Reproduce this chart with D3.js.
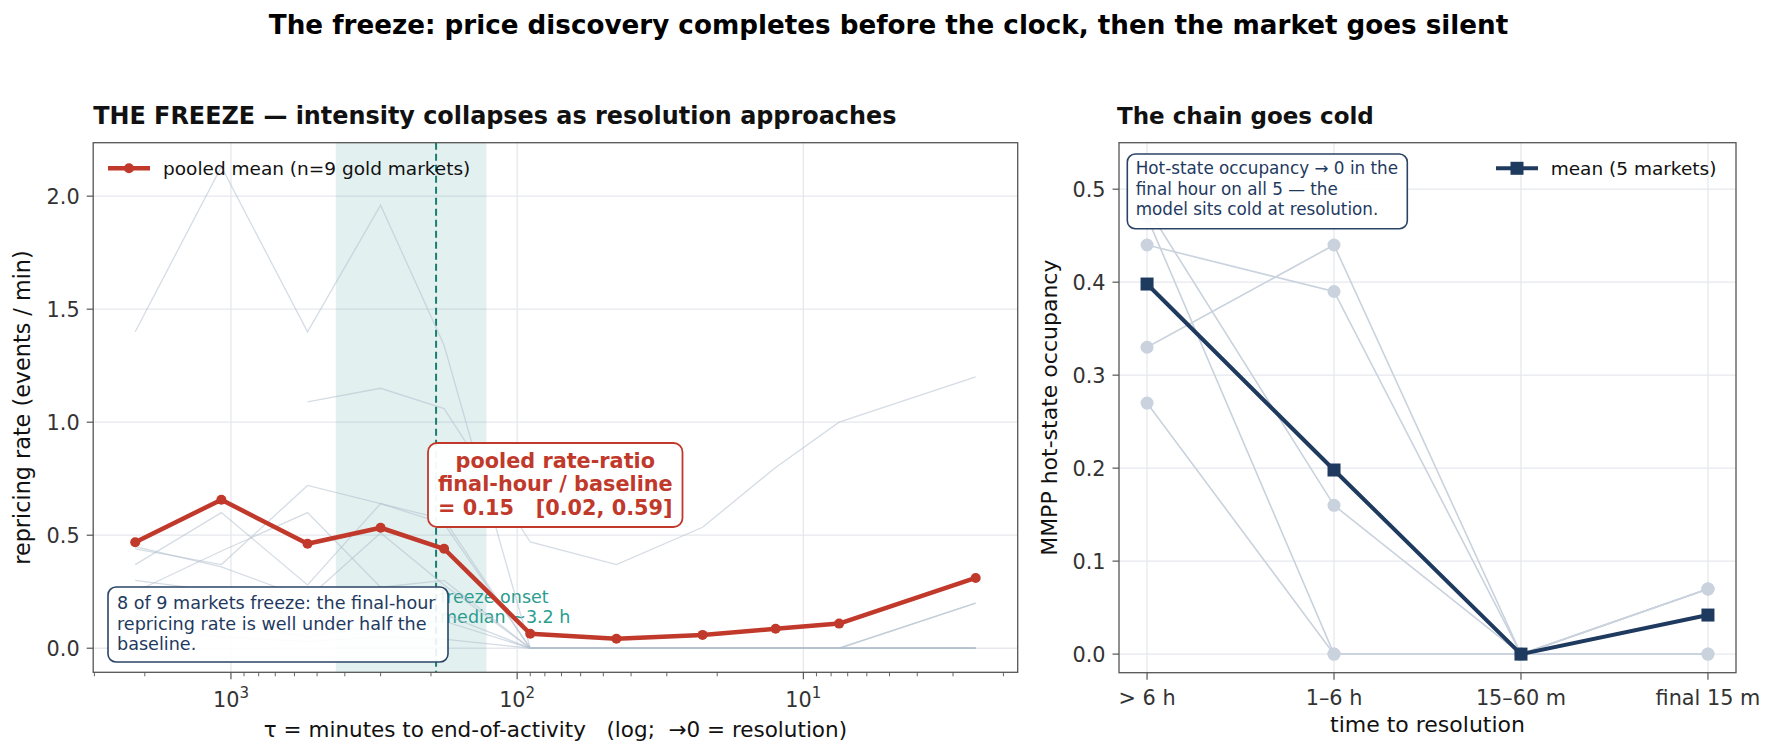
<!DOCTYPE html>
<html><head><meta charset="utf-8">
<script src="https://cdn.jsdelivr.net/npm/d3@7"></script>
<style>body{margin:0;background:#fff} text{font-family:"DejaVu Sans",sans-serif}</style>
</head><body><svg id="c" width="1777" height="756" xmlns="http://www.w3.org/2000/svg"></svg>
<script>
// ---------------- data ----------------
const tau = [2160, 1080, 540, 300, 180, 90, 45, 22.5, 12.5, 7.5, 2.5];
const pooledMean = [0.469, 0.657, 0.462, 0.533, 0.440, 0.064, 0.042, 0.059, 0.086, 0.109, 0.311];
const market1 = [1.40, 2.13, 1.40, 1.96, 1.34, 0, 0, 0, 0, 0, 0.20];
const market2 = [null, null, 1.09, 1.15, 1.06, 0.47, 0.37, 0.535, 0.80, 1.00, 1.20];
const market3 = [0.37, 0.60, 0.28, 0.64, 0.55, 0, 0, 0, 0, 0, 0];
const market4 = [0.44, 0.37, 0.72, 0.64, 0.57, 0, 0, 0, 0, 0, 0.20];
const market5 = [0.25, 0.43, 0.60, 0.27, 0.30, 0, 0, 0, 0, 0, 0];
const market6 = [0.45, 0.36, 0.22, 0.51, 0.28, 0, 0, 0, 0, 0, 0];
const market7 = [0.30, 0.25, 0.12, 0.20, 0.15, 0, 0, 0, 0, 0, 0];
const market8 = [0.20, 0.12, 0.05, 0.10, 0.12, 0, 0, 0, 0, 0, 0];
const market9 = [0.10, 0.05, 0.03, 0.05, 0.04, 0, 0, 0, 0, 0, 0];
const markets = [market1, market2, market3, market4, market5, market6, market7, market8, market9];
const freezeMedian = 192;          // minutes (~3.2 h)
const freezeBand = [430, 128];     // minutes
const yTicksL = [0, 0.5, 1.0, 1.5, 2.0];
const xMajorL = [1000, 100, 10];

const catLabels = ["> 6 h", "1–6 h", "15–60 m", "final 15 m"];
const hot1 = [0.44, 0.39, 0, 0.07];
const hot2 = [0.33, 0.44, 0, 0.07];
const hot3 = [0.27, 0, 0, 0];
const hot4 = [0.47, 0, 0, 0];
const hot5 = [0.48, 0.16, 0, 0.07];
const hotMarkets = [hot1, hot2, hot3, hot4, hot5];
const hotMean = [0.398, 0.198, 0, 0.042];
const yTicksR = [0, 0.1, 0.2, 0.3, 0.4, 0.5];
const yDomR = [-0.02, 0.55];

// ---------------- style ----------------
const cRed = "#c0392b", cNavy = "#1f3a5f", cGray = "#b3bfce", cGrayPt = "#c9d2dd";
const cGrid = "#e6e8ee", cSpine = "#555555", cTickTxt = "#333333", cTeal = "#1a7f72";
const TICK_FS = 20.8, LABEL_FS = 22, TITLE_FS = 23, SUP_FS = 26.2, LEG_FS = 18.5;

const svg = d3.select("#c");
svg.append("rect").attr("width", 1777).attr("height", 756).attr("fill", "#fff");

svg.append("text").attr("x", 888.5).attr("y", 34).attr("text-anchor", "middle")
  .attr("font-weight", "bold").attr("font-size", SUP_FS).attr("fill", "#000")
  .text("The freeze: price discovery completes before the clock, then the market goes silent");

// ================= LEFT PANEL =================
const L = {x0: 93.2, x1: 1017.7, y0: 142.7, y1: 672.3};
const lgMin = Math.log10(d3.min(tau)), lgMax = Math.log10(d3.max(tau));
const mx = 0.05 * (lgMax - lgMin);
const xL = d3.scaleLog().domain([10 ** (lgMax + mx), 10 ** (lgMin - mx)]).range([L.x0, L.x1]);
const allL = markets.flat().concat(pooledMean).filter(v => v != null);
const yMaxL = d3.max(allL), yMinL = Math.min(0, d3.min(allL));
const my = 0.05 * (yMaxL - yMinL);
const yL = d3.scaleLinear().domain([yMinL - my, yMaxL + my]).range([L.y1, L.y0]);

const gL = svg.append("g");
// grid
gL.selectAll(".gh").data(yTicksL).join("line")
  .attr("x1", L.x0).attr("x2", L.x1).attr("y1", d => yL(d)).attr("y2", d => yL(d))
  .attr("stroke", cGrid).attr("stroke-width", 1.3);
gL.selectAll(".gv").data(xMajorL).join("line")
  .attr("x1", d => xL(d)).attr("x2", d => xL(d)).attr("y1", L.y0).attr("y2", L.y1)
  .attr("stroke", cGrid).attr("stroke-width", 1.3);
// band
gL.append("rect").attr("x", xL(freezeBand[0])).attr("width", xL(freezeBand[1]) - xL(freezeBand[0]))
  .attr("y", L.y0).attr("height", L.y1 - L.y0).attr("fill", "#2a8c8c").attr("opacity", 0.13);
// dashed median
gL.append("line").attr("x1", xL(freezeMedian)).attr("x2", xL(freezeMedian))
  .attr("y1", L.y0).attr("y2", L.y1).attr("stroke", cTeal).attr("stroke-width", 2)
  .attr("stroke-dasharray", "7,4");
// teal annotation
const tt = gL.append("text").attr("font-size", 17.5).attr("fill", "#2a9d8f");
tt.append("tspan").attr("x", xL(freezeMedian) + 4).attr("y", 602.5).text("freeze onset");
tt.append("tspan").attr("x", xL(freezeMedian) + 4).attr("y", 623).text("median ~3.2 h");

// market lines
const lineL = d3.line().defined(d => d.v != null).x(d => xL(d.t)).y(d => yL(d.v));
markets.forEach(m => {
  gL.append("path").datum(m.map((v, i) => ({t: tau[i], v})))
    .attr("d", lineL).attr("fill", "none").attr("stroke", cGray)
    .attr("stroke-width", 1.3).attr("opacity", 0.55);
});
// pooled mean
const pm = tau.map((t, i) => ({t, v: pooledMean[i]}));
gL.append("path").datum(pm).attr("d", lineL).attr("fill", "none")
  .attr("stroke", cRed).attr("stroke-width", 4.5).attr("stroke-linejoin", "round");
gL.selectAll(".pm").data(pm).join("circle").attr("cx", d => xL(d.t)).attr("cy", d => yL(d.v))
  .attr("r", 5).attr("fill", cRed);

// left info box
gL.append("rect").attr("x", 108).attr("y", 587).attr("width", 340).attr("height", 75).attr("rx", 8)
  .attr("fill", "#fff").attr("fill-opacity", 0.9).attr("stroke", "#2b4466").attr("stroke-width", 1.6);
const lt = gL.append("text").attr("font-size", 17.6).attr("fill", cNavy);
["8 of 9 markets freeze: the final-hour", "repricing rate is well under half the", "baseline."]
  .forEach((s, i) => lt.append("tspan").attr("x", 117).attr("y", 609 + i * 20.6).text(s));

// red ratio box
gL.append("rect").attr("x", 428).attr("y", 443).attr("width", 254.5).attr("height", 84).attr("rx", 9)
  .attr("fill", "#fff").attr("fill-opacity", 0.95).attr("stroke", cRed).attr("stroke-width", 1.8);
const rt = gL.append("text").attr("font-size", 20.8).attr("font-weight", "bold").attr("fill", cRed)
  .attr("text-anchor", "middle").attr("xml:space", "preserve").style("white-space", "pre");
["pooled rate-ratio", "final-hour / baseline", "= 0.15   [0.02, 0.59]"]
  .forEach((s, i) => rt.append("tspan").attr("x", 555.3).attr("y", 467.5 + i * 23.6).text(s));

// legend
gL.append("line").attr("x1", 108).attr("x2", 150).attr("y1", 168.3).attr("y2", 168.3)
  .attr("stroke", cRed).attr("stroke-width", 4.5);
gL.append("circle").attr("cx", 129).attr("cy", 168.3).attr("r", 5).attr("fill", cRed);
gL.append("text").attr("x", 163).attr("y", 175).attr("font-size", LEG_FS).attr("fill", "#111")
  .text("pooled mean (n=9 gold markets)");

// spines
gL.append("rect").attr("x", L.x0).attr("y", L.y0).attr("width", L.x1 - L.x0).attr("height", L.y1 - L.y0)
  .attr("fill", "none").attr("stroke", cSpine).attr("stroke-width", 1.3);
// y ticks
yTicksL.forEach(v => {
  gL.append("line").attr("x1", L.x0 - 6.5).attr("x2", L.x0).attr("y1", yL(v)).attr("y2", yL(v))
    .attr("stroke", cSpine).attr("stroke-width", 1.2);
  gL.append("text").attr("x", L.x0 - 13.5).attr("y", yL(v) + 7.5).attr("text-anchor", "end")
    .attr("font-size", TICK_FS).attr("fill", cTickTxt).text(v.toFixed(1));
});
// x ticks (log)
const dom = xL.domain();
const lo = Math.min(dom[0], dom[1]), hi = Math.max(dom[0], dom[1]);
for (let k = -1; k <= 4; k++) {
  for (let j = 1; j <= 9; j++) {
    const v = j * 10 ** k;
    if (v < lo || v > hi) continue;
    const major = j === 1;
    gL.append("line").attr("x1", xL(v)).attr("x2", xL(v)).attr("y1", L.y1).attr("y2", L.y1 + (major ? 7 : 4))
      .attr("stroke", cSpine).attr("stroke-width", major ? 1.2 : 0.9);
  }
}
xMajorL.forEach(v => {
  const t = gL.append("text").attr("x", xL(v)).attr("y", 707).attr("text-anchor", "middle")
    .attr("font-size", TICK_FS).attr("fill", cTickTxt);
  t.append("tspan").text("10");
  t.append("tspan").attr("dy", -9).attr("font-size", 15).text(String(Math.round(Math.log10(v))));
});
gL.append("text").attr("x", (L.x0 + L.x1) / 2).attr("y", 737).attr("text-anchor", "middle")
  .attr("font-size", 21.5).attr("fill", "#111").attr("xml:space", "preserve").style("white-space", "pre")
  .text("τ = minutes to end-of-activity   (log;  →0 = resolution)");
gL.append("text").attr("transform", `translate(30,${(L.y0 + L.y1) / 2}) rotate(-90)`)
  .attr("text-anchor", "middle").attr("font-size", 22.3).attr("fill", "#111")
  .text("repricing rate (events / min)");
gL.append("text").attr("x", L.x0).attr("y", 124).attr("font-size", 23.9).attr("font-weight", "bold")
  .attr("fill", "#111").text("THE FREEZE — intensity collapses as resolution approaches");

// ================= RIGHT PANEL =================
const R = {x0: 1119, x1: 1736, y0: 142.7, y1: 672.7};
const xR = d3.scaleLinear().domain([-0.15, catLabels.length - 1 + 0.15]).range([R.x0, R.x1]);
const yR = d3.scaleLinear().domain(yDomR).range([R.y1, R.y0]);
const gR = svg.append("g");
gR.selectAll(".gh").data(yTicksR).join("line")
  .attr("x1", R.x0).attr("x2", R.x1).attr("y1", d => yR(d)).attr("y2", d => yR(d))
  .attr("stroke", cGrid).attr("stroke-width", 1.3);
gR.selectAll(".gv").data(catLabels).join("line")
  .attr("x1", (d, i) => xR(i)).attr("x2", (d, i) => xR(i)).attr("y1", R.y0).attr("y2", R.y1)
  .attr("stroke", cGrid).attr("stroke-width", 1.3);

const lineR = d3.line().x((d, i) => xR(i)).y(d => yR(d));
hotMarkets.forEach(m => {
  gR.append("path").datum(m).attr("d", lineR).attr("fill", "none").attr("stroke", cGrayPt)
    .attr("stroke-width", 1.6);
});
hotMarkets.forEach(m => {
  gR.selectAll(null).data(m).join("circle").attr("cx", (d, i) => xR(i)).attr("cy", d => yR(d))
    .attr("r", 6.5).attr("fill", cGrayPt);
});
gR.append("path").datum(hotMean).attr("d", lineR).attr("fill", "none").attr("stroke", cNavy)
  .attr("stroke-width", 4);
gR.selectAll(".sq").data(hotMean).join("rect").attr("x", (d, i) => xR(i) - 6.5).attr("y", d => yR(d) - 6.5)
  .attr("width", 13).attr("height", 13).attr("fill", cNavy);

// info box
gR.append("rect").attr("x", 1127.3).attr("y", 154).attr("width", 280).attr("height", 74.7).attr("rx", 8)
  .attr("fill", "#fff").attr("fill-opacity", 0.9).attr("stroke", "#2b4466").attr("stroke-width", 1.6);
const ht = gR.append("text").attr("font-size", 16.8).attr("fill", cNavy);
["Hot-state occupancy → 0 in the", "final hour on all 5 — the", "model sits cold at resolution."]
  .forEach((s, i) => ht.append("tspan").attr("x", 1135.7).attr("y", 174 + i * 20.7).text(s));

// legend
gR.append("line").attr("x1", 1496).attr("x2", 1538).attr("y1", 168.3).attr("y2", 168.3)
  .attr("stroke", cNavy).attr("stroke-width", 4);
gR.append("rect").attr("x", 1517 - 6.5).attr("y", 168.3 - 6.5).attr("width", 13).attr("height", 13).attr("fill", cNavy);
gR.append("text").attr("x", 1550.7).attr("y", 175).attr("font-size", LEG_FS).attr("fill", "#111")
  .text("mean (5 markets)");

gR.append("rect").attr("x", R.x0).attr("y", R.y0).attr("width", R.x1 - R.x0).attr("height", R.y1 - R.y0)
  .attr("fill", "none").attr("stroke", cSpine).attr("stroke-width", 1.3);
yTicksR.forEach(v => {
  gR.append("line").attr("x1", R.x0 - 6.5).attr("x2", R.x0).attr("y1", yR(v)).attr("y2", yR(v))
    .attr("stroke", cSpine).attr("stroke-width", 1.2);
  gR.append("text").attr("x", R.x0 - 13.5).attr("y", yR(v) + 7.5).attr("text-anchor", "end")
    .attr("font-size", TICK_FS).attr("fill", cTickTxt).text(v.toFixed(1));
});
catLabels.forEach((c, i) => {
  gR.append("line").attr("x1", xR(i)).attr("x2", xR(i)).attr("y1", R.y1).attr("y2", R.y1 + 7)
    .attr("stroke", cSpine).attr("stroke-width", 1.2);
  gR.append("text").attr("x", xR(i)).attr("y", 705).attr("text-anchor", "middle")
    .attr("font-size", TICK_FS).attr("fill", cTickTxt).text(c);
});
gR.append("text").attr("x", (R.x0 + R.x1) / 2).attr("y", 732).attr("text-anchor", "middle")
  .attr("font-size", LABEL_FS).attr("fill", "#111").text("time to resolution");
gR.append("text").attr("transform", `translate(1057,${(R.y0 + R.y1) / 2}) rotate(-90)`)
  .attr("text-anchor", "middle").attr("font-size", LABEL_FS).attr("fill", "#111")
  .text("MMPP hot-state occupancy");
gR.append("text").attr("x", R.x0 - 2).attr("y", 124).attr("font-size", TITLE_FS).attr("font-weight", "bold")
  .attr("fill", "#111").text("The chain goes cold");
</script></body></html>
